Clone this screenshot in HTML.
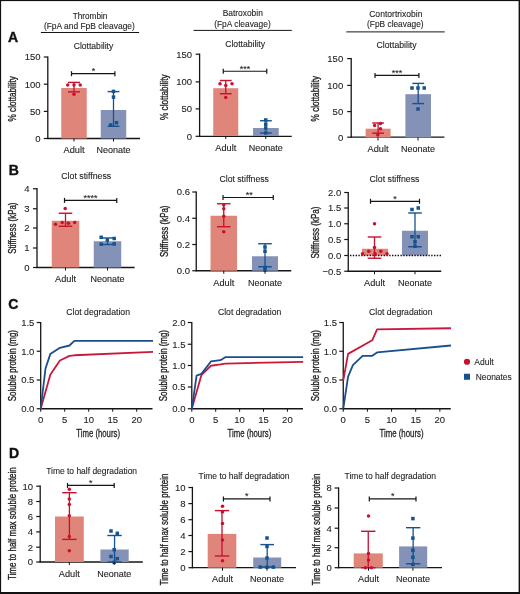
<!DOCTYPE html><html><head><meta charset="utf-8"><style>html,body{margin:0;padding:0;background:#fff;}svg{display:block;will-change:transform;font-family:"Liberation Sans",sans-serif;}</style></head><body>
<svg width="520" height="594" viewBox="0 0 520 594">
<rect x="0" y="0" width="520" height="594" fill="#fff"/>
<text x="8.10" y="41.80" font-size="14.00" text-anchor="start" fill="#111" font-weight="bold" stroke="#111" stroke-width="0.4">A</text>
<text x="8.70" y="175.00" font-size="14.00" text-anchor="start" fill="#111" font-weight="bold" stroke="#111" stroke-width="0.4">B</text>
<text x="8.30" y="308.50" font-size="14.00" text-anchor="start" fill="#111" font-weight="bold" stroke="#111" stroke-width="0.4">C</text>
<text x="8.90" y="457.60" font-size="14.00" text-anchor="start" fill="#111" font-weight="bold" stroke="#111" stroke-width="0.4">D</text>
<text x="90.00" y="18.50" font-size="8.40" text-anchor="middle" fill="#1e1e1e" font-weight="normal" textLength="34.70" lengthAdjust="spacingAndGlyphs" stroke="#1e1e1e" stroke-width="0.1">Thrombin</text>
<text x="89.38" y="29.00" font-size="8.40" text-anchor="middle" fill="#1e1e1e" font-weight="normal" textLength="90.95" lengthAdjust="spacingAndGlyphs" stroke="#1e1e1e" stroke-width="0.1">(FpA and FpB cleavage)</text>
<line x1="40.90" y1="32.50" x2="139.10" y2="32.50" stroke="#151515" stroke-width="1.00"/>
<text x="242.75" y="16.40" font-size="8.40" text-anchor="middle" fill="#1e1e1e" font-weight="normal" textLength="40.20" lengthAdjust="spacingAndGlyphs" stroke="#1e1e1e" stroke-width="0.1">Batroxobin</text>
<text x="242.45" y="26.60" font-size="8.40" text-anchor="middle" fill="#1e1e1e" font-weight="normal" textLength="56.50" lengthAdjust="spacingAndGlyphs" stroke="#1e1e1e" stroke-width="0.1">(FpA cleavage)</text>
<line x1="193.50" y1="30.40" x2="291.80" y2="30.40" stroke="#151515" stroke-width="1.00"/>
<text x="395.85" y="17.30" font-size="8.40" text-anchor="middle" fill="#1e1e1e" font-weight="normal" textLength="53.30" lengthAdjust="spacingAndGlyphs" stroke="#1e1e1e" stroke-width="0.1">Contortrixobin</text>
<text x="395.35" y="27.20" font-size="8.40" text-anchor="middle" fill="#1e1e1e" font-weight="normal" textLength="56.50" lengthAdjust="spacingAndGlyphs" stroke="#1e1e1e" stroke-width="0.1">(FpB cleavage)</text>
<line x1="346.30" y1="31.90" x2="444.70" y2="31.90" stroke="#151515" stroke-width="1.00"/>
<text x="93.50" y="49.40" font-size="8.40" text-anchor="middle" fill="#1e1e1e" font-weight="normal" textLength="39.60" lengthAdjust="spacingAndGlyphs" stroke="#1e1e1e" stroke-width="0.1">Clottability</text>
<line x1="47.80" y1="56.40" x2="47.80" y2="139.10" stroke="#151515" stroke-width="1.30"/>
<line x1="47.20" y1="138.50" x2="140.00" y2="138.50" stroke="#151515" stroke-width="1.30"/>
<line x1="43.80" y1="57.00" x2="47.80" y2="57.00" stroke="#151515" stroke-width="1.20"/>
<text x="40.60" y="60.42" font-size="9.50" text-anchor="end" fill="#1e1e1e" font-weight="normal" stroke="#1e1e1e" stroke-width="0.1">150</text>
<line x1="43.80" y1="84.20" x2="47.80" y2="84.20" stroke="#151515" stroke-width="1.20"/>
<text x="40.60" y="87.62" font-size="9.50" text-anchor="end" fill="#1e1e1e" font-weight="normal" stroke="#1e1e1e" stroke-width="0.1">100</text>
<line x1="43.80" y1="111.40" x2="47.80" y2="111.40" stroke="#151515" stroke-width="1.20"/>
<text x="40.60" y="114.82" font-size="9.50" text-anchor="end" fill="#1e1e1e" font-weight="normal" stroke="#1e1e1e" stroke-width="0.1">50</text>
<line x1="43.80" y1="138.50" x2="47.80" y2="138.50" stroke="#151515" stroke-width="1.20"/>
<text x="40.60" y="141.92" font-size="9.50" text-anchor="end" fill="#1e1e1e" font-weight="normal" stroke="#1e1e1e" stroke-width="0.1">0</text>
<text x="0" y="0" font-size="11.00" text-anchor="middle" fill="#1e1e1e" stroke="#1e1e1e" stroke-width="0.35" textLength="45.40" lengthAdjust="spacingAndGlyphs" transform="translate(16.46 98.80) rotate(-90)">% clottability</text>
<rect x="61.25" y="88.00" width="25.50" height="50.50" fill="#e0857a"/>
<line x1="74.00" y1="82.40" x2="74.00" y2="91.90" stroke="#c8102e" stroke-width="1.30"/>
<line x1="68.00" y1="82.40" x2="80.00" y2="82.40" stroke="#c8102e" stroke-width="1.40"/>
<line x1="68.00" y1="91.90" x2="80.00" y2="91.90" stroke="#c8102e" stroke-width="1.40"/>
<circle cx="67.70" cy="85.00" r="1.75" fill="#c8102e"/>
<circle cx="74.00" cy="85.00" r="1.75" fill="#c8102e"/>
<circle cx="80.20" cy="85.00" r="1.75" fill="#c8102e"/>
<circle cx="74.00" cy="94.30" r="1.75" fill="#c8102e"/>
<rect x="100.75" y="110.00" width="25.50" height="28.50" fill="#8592b7"/>
<line x1="113.50" y1="91.60" x2="113.50" y2="126.30" stroke="#15528e" stroke-width="1.30"/>
<line x1="107.60" y1="91.60" x2="119.40" y2="91.60" stroke="#15528e" stroke-width="1.40"/>
<line x1="107.60" y1="126.30" x2="119.40" y2="126.30" stroke="#15528e" stroke-width="1.40"/>
<rect x="111.75" y="89.65" width="3.50" height="3.50" fill="#15528e"/>
<rect x="111.75" y="95.35" width="3.50" height="3.50" fill="#15528e"/>
<rect x="108.85" y="123.25" width="3.50" height="3.50" fill="#15528e"/>
<rect x="114.75" y="120.95" width="3.50" height="3.50" fill="#15528e"/>
<line x1="74.00" y1="138.50" x2="74.00" y2="141.50" stroke="#151515" stroke-width="1.00"/>
<line x1="113.50" y1="138.50" x2="113.50" y2="141.50" stroke="#151515" stroke-width="1.00"/>
<line x1="71.50" y1="73.70" x2="114.90" y2="73.70" stroke="#151515" stroke-width="1.20"/>
<line x1="71.50" y1="71.20" x2="71.50" y2="76.20" stroke="#151515" stroke-width="1.20"/>
<line x1="114.90" y1="71.20" x2="114.90" y2="76.20" stroke="#151515" stroke-width="1.20"/>
<text x="93.40" y="74.13" font-size="9.00" text-anchor="middle" fill="#1e1e1e" font-weight="normal" stroke="#1e1e1e" stroke-width="0.1">*</text>
<text x="74.00" y="153.20" font-size="9.80" text-anchor="middle" fill="#1e1e1e" font-weight="normal" textLength="21.00" lengthAdjust="spacingAndGlyphs" stroke="#1e1e1e" stroke-width="0.12">Adult</text>
<text x="113.50" y="153.20" font-size="9.80" text-anchor="middle" fill="#1e1e1e" font-weight="normal" textLength="34.00" lengthAdjust="spacingAndGlyphs" stroke="#1e1e1e" stroke-width="0.12">Neonate</text>
<text x="245.10" y="47.30" font-size="8.40" text-anchor="middle" fill="#1e1e1e" font-weight="normal" textLength="39.80" lengthAdjust="spacingAndGlyphs" stroke="#1e1e1e" stroke-width="0.1">Clottability</text>
<line x1="199.60" y1="53.60" x2="199.60" y2="136.90" stroke="#151515" stroke-width="1.30"/>
<line x1="199.00" y1="136.30" x2="291.75" y2="136.30" stroke="#151515" stroke-width="1.30"/>
<line x1="195.60" y1="54.20" x2="199.60" y2="54.20" stroke="#151515" stroke-width="1.20"/>
<text x="192.00" y="57.62" font-size="9.50" text-anchor="end" fill="#1e1e1e" font-weight="normal" stroke="#1e1e1e" stroke-width="0.1">150</text>
<line x1="195.60" y1="81.90" x2="199.60" y2="81.90" stroke="#151515" stroke-width="1.20"/>
<text x="192.00" y="85.32" font-size="9.50" text-anchor="end" fill="#1e1e1e" font-weight="normal" stroke="#1e1e1e" stroke-width="0.1">100</text>
<line x1="195.60" y1="108.90" x2="199.60" y2="108.90" stroke="#151515" stroke-width="1.20"/>
<text x="192.00" y="112.32" font-size="9.50" text-anchor="end" fill="#1e1e1e" font-weight="normal" stroke="#1e1e1e" stroke-width="0.1">50</text>
<line x1="195.60" y1="136.30" x2="199.60" y2="136.30" stroke="#151515" stroke-width="1.20"/>
<text x="192.00" y="139.72" font-size="9.50" text-anchor="end" fill="#1e1e1e" font-weight="normal" stroke="#1e1e1e" stroke-width="0.1">0</text>
<text x="0" y="0" font-size="11.00" text-anchor="middle" fill="#1e1e1e" stroke="#1e1e1e" stroke-width="0.35" textLength="45.50" lengthAdjust="spacingAndGlyphs" transform="translate(168.46 97.25) rotate(-90)">% clottability</text>
<rect x="213.25" y="88.20" width="25.00" height="47.80" fill="#e0857a"/>
<line x1="225.75" y1="80.50" x2="225.75" y2="93.75" stroke="#c8102e" stroke-width="1.30"/>
<line x1="219.85" y1="80.50" x2="231.65" y2="80.50" stroke="#c8102e" stroke-width="1.40"/>
<line x1="219.85" y1="93.75" x2="231.65" y2="93.75" stroke="#c8102e" stroke-width="1.40"/>
<circle cx="220.00" cy="83.75" r="1.75" fill="#c8102e"/>
<circle cx="225.75" cy="85.50" r="1.75" fill="#c8102e"/>
<circle cx="232.00" cy="83.75" r="1.75" fill="#c8102e"/>
<circle cx="225.75" cy="97.50" r="1.75" fill="#c8102e"/>
<rect x="253.00" y="128.00" width="25.75" height="8.00" fill="#8592b7"/>
<line x1="265.88" y1="120.75" x2="265.88" y2="133.00" stroke="#15528e" stroke-width="1.30"/>
<line x1="259.98" y1="120.75" x2="271.77" y2="120.75" stroke="#15528e" stroke-width="1.40"/>
<line x1="259.98" y1="133.00" x2="271.77" y2="133.00" stroke="#15528e" stroke-width="1.40"/>
<rect x="264.00" y="118.25" width="3.50" height="3.50" fill="#15528e"/>
<rect x="264.00" y="122.50" width="3.50" height="3.50" fill="#15528e"/>
<rect x="264.00" y="126.25" width="3.50" height="3.50" fill="#15528e"/>
<rect x="264.00" y="131.25" width="3.50" height="3.50" fill="#15528e"/>
<line x1="225.75" y1="136.00" x2="225.75" y2="139.00" stroke="#151515" stroke-width="1.00"/>
<line x1="265.75" y1="136.00" x2="265.75" y2="139.00" stroke="#151515" stroke-width="1.00"/>
<line x1="223.25" y1="71.25" x2="266.75" y2="71.25" stroke="#151515" stroke-width="1.20"/>
<line x1="223.25" y1="68.75" x2="223.25" y2="73.75" stroke="#151515" stroke-width="1.20"/>
<line x1="266.75" y1="68.75" x2="266.75" y2="73.75" stroke="#151515" stroke-width="1.20"/>
<text x="245.00" y="71.68" font-size="9.00" text-anchor="middle" fill="#1e1e1e" font-weight="normal" stroke="#1e1e1e" stroke-width="0.1">***</text>
<text x="225.75" y="151.20" font-size="9.80" text-anchor="middle" fill="#1e1e1e" font-weight="normal" textLength="21.00" lengthAdjust="spacingAndGlyphs" stroke="#1e1e1e" stroke-width="0.12">Adult</text>
<text x="265.75" y="151.20" font-size="9.80" text-anchor="middle" fill="#1e1e1e" font-weight="normal" textLength="34.00" lengthAdjust="spacingAndGlyphs" stroke="#1e1e1e" stroke-width="0.12">Neonate</text>
<text x="396.60" y="48.40" font-size="8.40" text-anchor="middle" fill="#1e1e1e" font-weight="normal" textLength="40.00" lengthAdjust="spacingAndGlyphs" stroke="#1e1e1e" stroke-width="0.1">Clottability</text>
<line x1="351.20" y1="58.00" x2="351.20" y2="137.80" stroke="#151515" stroke-width="1.30"/>
<line x1="350.60" y1="137.20" x2="444.40" y2="137.20" stroke="#151515" stroke-width="1.30"/>
<line x1="347.20" y1="58.60" x2="351.20" y2="58.60" stroke="#151515" stroke-width="1.20"/>
<text x="343.20" y="62.02" font-size="9.50" text-anchor="end" fill="#1e1e1e" font-weight="normal" stroke="#1e1e1e" stroke-width="0.1">150</text>
<line x1="347.20" y1="85.40" x2="351.20" y2="85.40" stroke="#151515" stroke-width="1.20"/>
<text x="343.20" y="88.82" font-size="9.50" text-anchor="end" fill="#1e1e1e" font-weight="normal" stroke="#1e1e1e" stroke-width="0.1">100</text>
<line x1="347.20" y1="111.60" x2="351.20" y2="111.60" stroke="#151515" stroke-width="1.20"/>
<text x="343.20" y="115.02" font-size="9.50" text-anchor="end" fill="#1e1e1e" font-weight="normal" stroke="#1e1e1e" stroke-width="0.1">50</text>
<line x1="347.20" y1="137.20" x2="351.20" y2="137.20" stroke="#151515" stroke-width="1.20"/>
<text x="343.20" y="140.62" font-size="9.50" text-anchor="end" fill="#1e1e1e" font-weight="normal" stroke="#1e1e1e" stroke-width="0.1">0</text>
<text x="0" y="0" font-size="11.00" text-anchor="middle" fill="#1e1e1e" stroke="#1e1e1e" stroke-width="0.35" textLength="45.40" lengthAdjust="spacingAndGlyphs" transform="translate(318.96 98.70) rotate(-90)">% clottability</text>
<rect x="365.60" y="128.70" width="25.00" height="8.80" fill="#e0857a"/>
<line x1="378.10" y1="123.00" x2="378.10" y2="133.20" stroke="#c8102e" stroke-width="1.30"/>
<line x1="372.20" y1="123.00" x2="384.00" y2="123.00" stroke="#c8102e" stroke-width="1.40"/>
<line x1="372.20" y1="133.20" x2="384.00" y2="133.20" stroke="#c8102e" stroke-width="1.40"/>
<circle cx="374.60" cy="125.50" r="1.75" fill="#c8102e"/>
<circle cx="380.50" cy="123.40" r="1.75" fill="#c8102e"/>
<circle cx="380.50" cy="128.70" r="1.75" fill="#c8102e"/>
<circle cx="377.80" cy="135.00" r="1.75" fill="#c8102e"/>
<rect x="405.40" y="94.20" width="25.60" height="43.30" fill="#8592b7"/>
<line x1="418.20" y1="83.40" x2="418.20" y2="103.60" stroke="#15528e" stroke-width="1.30"/>
<line x1="412.30" y1="83.40" x2="424.10" y2="83.40" stroke="#15528e" stroke-width="1.40"/>
<line x1="412.30" y1="103.60" x2="424.10" y2="103.60" stroke="#15528e" stroke-width="1.40"/>
<rect x="410.25" y="86.25" width="3.50" height="3.50" fill="#15528e"/>
<rect x="416.25" y="86.25" width="3.50" height="3.50" fill="#15528e"/>
<rect x="422.50" y="86.25" width="3.50" height="3.50" fill="#15528e"/>
<rect x="416.25" y="107.25" width="3.50" height="3.50" fill="#15528e"/>
<line x1="378.00" y1="137.50" x2="378.00" y2="140.50" stroke="#151515" stroke-width="1.00"/>
<line x1="418.00" y1="137.50" x2="418.00" y2="140.50" stroke="#151515" stroke-width="1.00"/>
<line x1="375.00" y1="75.40" x2="418.90" y2="75.40" stroke="#151515" stroke-width="1.20"/>
<line x1="375.00" y1="72.90" x2="375.00" y2="77.90" stroke="#151515" stroke-width="1.20"/>
<line x1="418.90" y1="72.90" x2="418.90" y2="77.90" stroke="#151515" stroke-width="1.20"/>
<text x="397.00" y="75.83" font-size="9.00" text-anchor="middle" fill="#1e1e1e" font-weight="normal" stroke="#1e1e1e" stroke-width="0.1">***</text>
<text x="378.00" y="151.80" font-size="9.80" text-anchor="middle" fill="#1e1e1e" font-weight="normal" textLength="21.00" lengthAdjust="spacingAndGlyphs" stroke="#1e1e1e" stroke-width="0.12">Adult</text>
<text x="418.00" y="151.80" font-size="9.80" text-anchor="middle" fill="#1e1e1e" font-weight="normal" textLength="34.00" lengthAdjust="spacingAndGlyphs" stroke="#1e1e1e" stroke-width="0.12">Neonate</text>
<text x="86.25" y="178.50" font-size="8.40" text-anchor="middle" fill="#1e1e1e" font-weight="normal" textLength="50.00" lengthAdjust="spacingAndGlyphs" stroke="#1e1e1e" stroke-width="0.1">Clot stiffness</text>
<line x1="37.00" y1="187.90" x2="37.00" y2="268.10" stroke="#151515" stroke-width="1.30"/>
<line x1="36.40" y1="267.50" x2="134.60" y2="267.50" stroke="#151515" stroke-width="1.30"/>
<line x1="33.00" y1="188.75" x2="37.00" y2="188.75" stroke="#151515" stroke-width="1.20"/>
<text x="29.50" y="192.17" font-size="9.50" text-anchor="end" fill="#1e1e1e" font-weight="normal" stroke="#1e1e1e" stroke-width="0.1">4</text>
<line x1="33.00" y1="208.75" x2="37.00" y2="208.75" stroke="#151515" stroke-width="1.20"/>
<text x="29.50" y="212.17" font-size="9.50" text-anchor="end" fill="#1e1e1e" font-weight="normal" stroke="#1e1e1e" stroke-width="0.1">3</text>
<line x1="33.00" y1="228.00" x2="37.00" y2="228.00" stroke="#151515" stroke-width="1.20"/>
<text x="29.50" y="231.42" font-size="9.50" text-anchor="end" fill="#1e1e1e" font-weight="normal" stroke="#1e1e1e" stroke-width="0.1">2</text>
<line x1="33.00" y1="248.00" x2="37.00" y2="248.00" stroke="#151515" stroke-width="1.20"/>
<text x="29.50" y="251.42" font-size="9.50" text-anchor="end" fill="#1e1e1e" font-weight="normal" stroke="#1e1e1e" stroke-width="0.1">1</text>
<line x1="33.00" y1="267.50" x2="37.00" y2="267.50" stroke="#151515" stroke-width="1.20"/>
<text x="29.50" y="270.92" font-size="9.50" text-anchor="end" fill="#1e1e1e" font-weight="normal" stroke="#1e1e1e" stroke-width="0.1">0</text>
<text x="0" y="0" font-size="11.00" text-anchor="middle" fill="#1e1e1e" stroke="#1e1e1e" stroke-width="0.35" textLength="51.25" lengthAdjust="spacingAndGlyphs" transform="translate(16.46 228.12) rotate(-90)">Stiffness (kPa)</text>
<rect x="51.75" y="220.75" width="27.50" height="46.75" fill="#e0857a"/>
<line x1="65.50" y1="213.25" x2="65.50" y2="226.25" stroke="#c8102e" stroke-width="1.30"/>
<line x1="58.70" y1="213.25" x2="72.30" y2="213.25" stroke="#c8102e" stroke-width="1.40"/>
<line x1="58.70" y1="226.25" x2="72.30" y2="226.25" stroke="#c8102e" stroke-width="1.40"/>
<circle cx="65.20" cy="208.50" r="1.75" fill="#c8102e"/>
<circle cx="55.50" cy="224.20" r="1.75" fill="#c8102e"/>
<circle cx="62.20" cy="222.40" r="1.75" fill="#c8102e"/>
<circle cx="68.40" cy="223.20" r="1.75" fill="#c8102e"/>
<circle cx="74.70" cy="222.40" r="1.75" fill="#c8102e"/>
<rect x="93.75" y="241.25" width="27.50" height="26.25" fill="#8592b7"/>
<line x1="107.50" y1="238.00" x2="107.50" y2="244.50" stroke="#15528e" stroke-width="1.30"/>
<line x1="100.70" y1="238.00" x2="114.30" y2="238.00" stroke="#15528e" stroke-width="1.40"/>
<line x1="100.70" y1="244.50" x2="114.30" y2="244.50" stroke="#15528e" stroke-width="1.40"/>
<rect x="99.45" y="235.55" width="3.50" height="3.50" fill="#15528e"/>
<rect x="112.45" y="236.75" width="3.50" height="3.50" fill="#15528e"/>
<rect x="105.55" y="238.25" width="3.50" height="3.50" fill="#15528e"/>
<rect x="99.45" y="242.45" width="3.50" height="3.50" fill="#15528e"/>
<rect x="112.45" y="242.15" width="3.50" height="3.50" fill="#15528e"/>
<line x1="65.50" y1="267.50" x2="65.50" y2="270.50" stroke="#151515" stroke-width="1.00"/>
<line x1="107.50" y1="267.50" x2="107.50" y2="270.50" stroke="#151515" stroke-width="1.00"/>
<line x1="64.50" y1="200.40" x2="116.75" y2="200.40" stroke="#151515" stroke-width="1.20"/>
<line x1="64.50" y1="197.90" x2="64.50" y2="202.90" stroke="#151515" stroke-width="1.20"/>
<line x1="116.75" y1="197.90" x2="116.75" y2="202.90" stroke="#151515" stroke-width="1.20"/>
<text x="90.50" y="200.83" font-size="9.00" text-anchor="middle" fill="#1e1e1e" font-weight="normal" stroke="#1e1e1e" stroke-width="0.1">****</text>
<text x="65.50" y="282.00" font-size="9.80" text-anchor="middle" fill="#1e1e1e" font-weight="normal" textLength="21.00" lengthAdjust="spacingAndGlyphs" stroke="#1e1e1e" stroke-width="0.12">Adult</text>
<text x="107.50" y="282.00" font-size="9.80" text-anchor="middle" fill="#1e1e1e" font-weight="normal" textLength="34.00" lengthAdjust="spacingAndGlyphs" stroke="#1e1e1e" stroke-width="0.12">Neonate</text>
<text x="244.20" y="181.70" font-size="8.40" text-anchor="middle" fill="#1e1e1e" font-weight="normal" textLength="49.50" lengthAdjust="spacingAndGlyphs" stroke="#1e1e1e" stroke-width="0.1">Clot stiffness</text>
<line x1="196.25" y1="191.40" x2="196.25" y2="271.35" stroke="#151515" stroke-width="1.30"/>
<line x1="195.65" y1="270.75" x2="291.25" y2="270.75" stroke="#151515" stroke-width="1.30"/>
<line x1="192.25" y1="192.00" x2="196.25" y2="192.00" stroke="#151515" stroke-width="1.20"/>
<text x="190.00" y="195.42" font-size="9.50" text-anchor="end" fill="#1e1e1e" font-weight="normal" stroke="#1e1e1e" stroke-width="0.1">0.6</text>
<line x1="192.25" y1="218.25" x2="196.25" y2="218.25" stroke="#151515" stroke-width="1.20"/>
<text x="190.00" y="221.67" font-size="9.50" text-anchor="end" fill="#1e1e1e" font-weight="normal" stroke="#1e1e1e" stroke-width="0.1">0.4</text>
<line x1="192.25" y1="244.50" x2="196.25" y2="244.50" stroke="#151515" stroke-width="1.20"/>
<text x="190.00" y="247.92" font-size="9.50" text-anchor="end" fill="#1e1e1e" font-weight="normal" stroke="#1e1e1e" stroke-width="0.1">0.2</text>
<line x1="192.25" y1="270.75" x2="196.25" y2="270.75" stroke="#151515" stroke-width="1.20"/>
<text x="190.00" y="274.17" font-size="9.50" text-anchor="end" fill="#1e1e1e" font-weight="normal" stroke="#1e1e1e" stroke-width="0.1">0.0</text>
<text x="0" y="0" font-size="11.00" text-anchor="middle" fill="#1e1e1e" stroke="#1e1e1e" stroke-width="0.35" textLength="51.50" lengthAdjust="spacingAndGlyphs" transform="translate(167.96 231.25) rotate(-90)">Stiffness (kPa)</text>
<rect x="210.50" y="215.75" width="26.50" height="55.00" fill="#e0857a"/>
<line x1="223.75" y1="203.75" x2="223.75" y2="226.75" stroke="#c8102e" stroke-width="1.30"/>
<line x1="216.95" y1="203.75" x2="230.55" y2="203.75" stroke="#c8102e" stroke-width="1.40"/>
<line x1="216.95" y1="226.75" x2="230.55" y2="226.75" stroke="#c8102e" stroke-width="1.40"/>
<circle cx="223.75" cy="205.00" r="1.75" fill="#c8102e"/>
<circle cx="223.75" cy="208.75" r="1.75" fill="#c8102e"/>
<circle cx="223.75" cy="216.25" r="1.75" fill="#c8102e"/>
<circle cx="223.75" cy="231.75" r="1.75" fill="#c8102e"/>
<rect x="252.00" y="256.25" width="26.00" height="14.50" fill="#8592b7"/>
<line x1="265.00" y1="243.75" x2="265.00" y2="266.75" stroke="#15528e" stroke-width="1.30"/>
<line x1="258.20" y1="243.75" x2="271.80" y2="243.75" stroke="#15528e" stroke-width="1.40"/>
<line x1="258.20" y1="266.75" x2="271.80" y2="266.75" stroke="#15528e" stroke-width="1.40"/>
<rect x="263.25" y="245.25" width="3.50" height="3.50" fill="#15528e"/>
<rect x="263.25" y="249.50" width="3.50" height="3.50" fill="#15528e"/>
<rect x="263.25" y="265.75" width="3.50" height="3.50" fill="#15528e"/>
<rect x="263.25" y="268.25" width="3.50" height="3.50" fill="#15528e"/>
<line x1="223.75" y1="270.75" x2="223.75" y2="273.75" stroke="#151515" stroke-width="1.00"/>
<line x1="265.00" y1="270.75" x2="265.00" y2="273.75" stroke="#151515" stroke-width="1.00"/>
<line x1="223.00" y1="197.50" x2="273.25" y2="197.50" stroke="#151515" stroke-width="1.20"/>
<line x1="223.00" y1="195.00" x2="223.00" y2="200.00" stroke="#151515" stroke-width="1.20"/>
<line x1="273.25" y1="195.00" x2="273.25" y2="200.00" stroke="#151515" stroke-width="1.20"/>
<text x="249.25" y="197.93" font-size="9.00" text-anchor="middle" fill="#1e1e1e" font-weight="normal" stroke="#1e1e1e" stroke-width="0.1">**</text>
<text x="223.75" y="286.00" font-size="9.80" text-anchor="middle" fill="#1e1e1e" font-weight="normal" textLength="21.00" lengthAdjust="spacingAndGlyphs" stroke="#1e1e1e" stroke-width="0.12">Adult</text>
<text x="265.00" y="286.00" font-size="9.80" text-anchor="middle" fill="#1e1e1e" font-weight="normal" textLength="34.00" lengthAdjust="spacingAndGlyphs" stroke="#1e1e1e" stroke-width="0.12">Neonate</text>
<text x="394.50" y="182.20" font-size="8.40" text-anchor="middle" fill="#1e1e1e" font-weight="normal" textLength="50.00" lengthAdjust="spacingAndGlyphs" stroke="#1e1e1e" stroke-width="0.1">Clot stiffness</text>
<line x1="348.25" y1="191.90" x2="348.25" y2="271.85" stroke="#151515" stroke-width="1.30"/>
<line x1="347.65" y1="271.25" x2="441.25" y2="271.25" stroke="#151515" stroke-width="1.30"/>
<line x1="344.25" y1="192.50" x2="348.25" y2="192.50" stroke="#151515" stroke-width="1.20"/>
<text x="341.25" y="195.92" font-size="9.50" text-anchor="end" fill="#1e1e1e" font-weight="normal" stroke="#1e1e1e" stroke-width="0.1">2.0</text>
<line x1="344.25" y1="208.00" x2="348.25" y2="208.00" stroke="#151515" stroke-width="1.20"/>
<text x="341.25" y="211.42" font-size="9.50" text-anchor="end" fill="#1e1e1e" font-weight="normal" stroke="#1e1e1e" stroke-width="0.1">1.5</text>
<line x1="344.25" y1="223.75" x2="348.25" y2="223.75" stroke="#151515" stroke-width="1.20"/>
<text x="341.25" y="227.17" font-size="9.50" text-anchor="end" fill="#1e1e1e" font-weight="normal" stroke="#1e1e1e" stroke-width="0.1">1.0</text>
<line x1="344.25" y1="239.50" x2="348.25" y2="239.50" stroke="#151515" stroke-width="1.20"/>
<text x="341.25" y="242.92" font-size="9.50" text-anchor="end" fill="#1e1e1e" font-weight="normal" stroke="#1e1e1e" stroke-width="0.1">0.5</text>
<line x1="344.25" y1="255.50" x2="348.25" y2="255.50" stroke="#151515" stroke-width="1.20"/>
<text x="341.25" y="258.92" font-size="9.50" text-anchor="end" fill="#1e1e1e" font-weight="normal" stroke="#1e1e1e" stroke-width="0.1">0.0</text>
<line x1="344.25" y1="271.25" x2="348.25" y2="271.25" stroke="#151515" stroke-width="1.20"/>
<text x="341.25" y="274.67" font-size="9.50" text-anchor="end" fill="#1e1e1e" font-weight="normal" stroke="#1e1e1e" stroke-width="0.1">−0.5</text>
<text x="0" y="0" font-size="11.00" text-anchor="middle" fill="#1e1e1e" stroke="#1e1e1e" stroke-width="0.35" textLength="52.00" lengthAdjust="spacingAndGlyphs" transform="translate(319.46 232.50) rotate(-90)">Stiffness (kPa)</text>
<rect x="362.00" y="248.75" width="26.00" height="6.75" fill="#e0857a"/>
<rect x="402.00" y="230.75" width="26.00" height="24.75" fill="#8592b7"/>
<line x1="350.00" y1="255.50" x2="441.25" y2="255.50" stroke="#111" stroke-width="1.40" stroke-dasharray="1.4 1.4"/>
<line x1="374.50" y1="237.00" x2="374.50" y2="258.25" stroke="#c8102e" stroke-width="1.30"/>
<line x1="367.70" y1="237.00" x2="381.30" y2="237.00" stroke="#c8102e" stroke-width="1.40"/>
<line x1="367.70" y1="258.25" x2="381.30" y2="258.25" stroke="#c8102e" stroke-width="1.40"/>
<line x1="415.00" y1="213.00" x2="415.00" y2="246.75" stroke="#15528e" stroke-width="1.30"/>
<line x1="408.20" y1="213.00" x2="421.80" y2="213.00" stroke="#15528e" stroke-width="1.40"/>
<line x1="408.20" y1="246.75" x2="421.80" y2="246.75" stroke="#15528e" stroke-width="1.40"/>
<circle cx="374.50" cy="223.75" r="1.75" fill="#c8102e"/>
<circle cx="374.50" cy="247.50" r="1.75" fill="#c8102e"/>
<circle cx="362.50" cy="253.75" r="1.75" fill="#c8102e"/>
<circle cx="368.75" cy="251.25" r="1.75" fill="#c8102e"/>
<circle cx="375.00" cy="253.75" r="1.75" fill="#c8102e"/>
<circle cx="380.75" cy="251.25" r="1.75" fill="#c8102e"/>
<circle cx="387.00" cy="253.75" r="1.75" fill="#c8102e"/>
<rect x="410.25" y="207.75" width="3.50" height="3.50" fill="#15528e"/>
<rect x="416.50" y="206.25" width="3.50" height="3.50" fill="#15528e"/>
<rect x="410.25" y="235.00" width="3.50" height="3.50" fill="#15528e"/>
<rect x="416.50" y="235.00" width="3.50" height="3.50" fill="#15528e"/>
<rect x="413.25" y="240.00" width="3.50" height="3.50" fill="#15528e"/>
<rect x="413.25" y="244.50" width="3.50" height="3.50" fill="#15528e"/>
<line x1="374.50" y1="271.25" x2="374.50" y2="274.25" stroke="#151515" stroke-width="1.00"/>
<line x1="415.00" y1="271.25" x2="415.00" y2="274.25" stroke="#151515" stroke-width="1.00"/>
<line x1="370.50" y1="201.30" x2="419.50" y2="201.30" stroke="#151515" stroke-width="1.20"/>
<line x1="370.50" y1="198.80" x2="370.50" y2="203.80" stroke="#151515" stroke-width="1.20"/>
<line x1="419.50" y1="198.80" x2="419.50" y2="203.80" stroke="#151515" stroke-width="1.20"/>
<text x="395.00" y="201.73" font-size="9.00" text-anchor="middle" fill="#1e1e1e" font-weight="normal" stroke="#1e1e1e" stroke-width="0.1">*</text>
<text x="374.50" y="286.20" font-size="9.80" text-anchor="middle" fill="#1e1e1e" font-weight="normal" textLength="21.00" lengthAdjust="spacingAndGlyphs" stroke="#1e1e1e" stroke-width="0.12">Adult</text>
<text x="415.00" y="286.20" font-size="9.80" text-anchor="middle" fill="#1e1e1e" font-weight="normal" textLength="34.00" lengthAdjust="spacingAndGlyphs" stroke="#1e1e1e" stroke-width="0.12">Neonate</text>
<text x="98.12" y="314.90" font-size="8.40" text-anchor="middle" fill="#1e1e1e" font-weight="normal" textLength="63.75" lengthAdjust="spacingAndGlyphs" stroke="#1e1e1e" stroke-width="0.1">Clot degradation</text>
<line x1="40.70" y1="321.90" x2="40.70" y2="409.35" stroke="#151515" stroke-width="1.30"/>
<line x1="40.10" y1="408.75" x2="152.50" y2="408.75" stroke="#151515" stroke-width="1.30"/>
<line x1="36.70" y1="322.50" x2="40.70" y2="322.50" stroke="#151515" stroke-width="1.20"/>
<text x="34.40" y="325.92" font-size="9.50" text-anchor="end" fill="#1e1e1e" font-weight="normal" stroke="#1e1e1e" stroke-width="0.1">1.5</text>
<line x1="36.70" y1="351.25" x2="40.70" y2="351.25" stroke="#151515" stroke-width="1.20"/>
<text x="34.40" y="354.67" font-size="9.50" text-anchor="end" fill="#1e1e1e" font-weight="normal" stroke="#1e1e1e" stroke-width="0.1">1.0</text>
<line x1="36.70" y1="380.00" x2="40.70" y2="380.00" stroke="#151515" stroke-width="1.20"/>
<text x="34.40" y="383.42" font-size="9.50" text-anchor="end" fill="#1e1e1e" font-weight="normal" stroke="#1e1e1e" stroke-width="0.1">0.5</text>
<line x1="36.70" y1="408.75" x2="40.70" y2="408.75" stroke="#151515" stroke-width="1.20"/>
<text x="34.40" y="412.17" font-size="9.50" text-anchor="end" fill="#1e1e1e" font-weight="normal" stroke="#1e1e1e" stroke-width="0.1">0.0</text>
<line x1="40.70" y1="408.75" x2="40.70" y2="411.75" stroke="#151515" stroke-width="1.00"/>
<text x="40.70" y="422.50" font-size="9.50" text-anchor="middle" fill="#1e1e1e" font-weight="normal" stroke="#1e1e1e" stroke-width="0.1">0</text>
<line x1="64.70" y1="408.75" x2="64.70" y2="411.75" stroke="#151515" stroke-width="1.00"/>
<text x="64.70" y="422.50" font-size="9.50" text-anchor="middle" fill="#1e1e1e" font-weight="normal" stroke="#1e1e1e" stroke-width="0.1">5</text>
<line x1="88.70" y1="408.75" x2="88.70" y2="411.75" stroke="#151515" stroke-width="1.00"/>
<text x="88.70" y="422.50" font-size="9.50" text-anchor="middle" fill="#1e1e1e" font-weight="normal" stroke="#1e1e1e" stroke-width="0.1">10</text>
<line x1="112.70" y1="408.75" x2="112.70" y2="411.75" stroke="#151515" stroke-width="1.00"/>
<text x="112.70" y="422.50" font-size="9.50" text-anchor="middle" fill="#1e1e1e" font-weight="normal" stroke="#1e1e1e" stroke-width="0.1">15</text>
<line x1="136.70" y1="408.75" x2="136.70" y2="411.75" stroke="#151515" stroke-width="1.00"/>
<text x="136.70" y="422.50" font-size="9.50" text-anchor="middle" fill="#1e1e1e" font-weight="normal" stroke="#1e1e1e" stroke-width="0.1">20</text>
<polyline points="40.70,408.75 50.30,374.82 59.90,360.45 69.50,355.85 74.30,355.27 153.02,351.82" fill="none" stroke="#c8193c" stroke-width="1.8" stroke-linejoin="round"/>
<polyline points="40.70,408.75 45.50,368.50 50.30,354.12 59.90,347.80 69.50,345.50 74.30,340.90 153.02,340.90" fill="none" stroke="#1a4f8c" stroke-width="1.8" stroke-linejoin="round"/>
<text x="0" y="0" font-size="11.00" text-anchor="middle" fill="#1e1e1e" stroke="#1e1e1e" stroke-width="0.35" textLength="71.25" lengthAdjust="spacingAndGlyphs" transform="translate(16.46 365.62) rotate(-90)">Soluble protein (mg)</text>
<text x="98.12" y="436.90" font-size="11.50" text-anchor="middle" fill="#1e1e1e" font-weight="normal" textLength="43.75" lengthAdjust="spacingAndGlyphs" stroke="#1e1e1e" stroke-width="0.3">Time (hours)</text>
<text x="249.62" y="314.90" font-size="8.40" text-anchor="middle" fill="#1e1e1e" font-weight="normal" textLength="63.25" lengthAdjust="spacingAndGlyphs" stroke="#1e1e1e" stroke-width="0.1">Clot degradation</text>
<line x1="191.80" y1="321.90" x2="191.80" y2="409.35" stroke="#151515" stroke-width="1.30"/>
<line x1="191.20" y1="408.75" x2="303.00" y2="408.75" stroke="#151515" stroke-width="1.30"/>
<line x1="187.80" y1="322.50" x2="191.80" y2="322.50" stroke="#151515" stroke-width="1.20"/>
<text x="185.50" y="325.92" font-size="9.50" text-anchor="end" fill="#1e1e1e" font-weight="normal" stroke="#1e1e1e" stroke-width="0.1">2.0</text>
<line x1="187.80" y1="344.25" x2="191.80" y2="344.25" stroke="#151515" stroke-width="1.20"/>
<text x="185.50" y="347.67" font-size="9.50" text-anchor="end" fill="#1e1e1e" font-weight="normal" stroke="#1e1e1e" stroke-width="0.1">1.5</text>
<line x1="187.80" y1="365.50" x2="191.80" y2="365.50" stroke="#151515" stroke-width="1.20"/>
<text x="185.50" y="368.92" font-size="9.50" text-anchor="end" fill="#1e1e1e" font-weight="normal" stroke="#1e1e1e" stroke-width="0.1">1.0</text>
<line x1="187.80" y1="387.00" x2="191.80" y2="387.00" stroke="#151515" stroke-width="1.20"/>
<text x="185.50" y="390.42" font-size="9.50" text-anchor="end" fill="#1e1e1e" font-weight="normal" stroke="#1e1e1e" stroke-width="0.1">0.5</text>
<line x1="187.80" y1="408.75" x2="191.80" y2="408.75" stroke="#151515" stroke-width="1.20"/>
<text x="185.50" y="412.17" font-size="9.50" text-anchor="end" fill="#1e1e1e" font-weight="normal" stroke="#1e1e1e" stroke-width="0.1">0.0</text>
<line x1="191.80" y1="408.75" x2="191.80" y2="411.75" stroke="#151515" stroke-width="1.00"/>
<text x="191.80" y="422.50" font-size="9.50" text-anchor="middle" fill="#1e1e1e" font-weight="normal" stroke="#1e1e1e" stroke-width="0.1">0</text>
<line x1="215.70" y1="408.75" x2="215.70" y2="411.75" stroke="#151515" stroke-width="1.00"/>
<text x="215.70" y="422.50" font-size="9.50" text-anchor="middle" fill="#1e1e1e" font-weight="normal" stroke="#1e1e1e" stroke-width="0.1">5</text>
<line x1="239.60" y1="408.75" x2="239.60" y2="411.75" stroke="#151515" stroke-width="1.00"/>
<text x="239.60" y="422.50" font-size="9.50" text-anchor="middle" fill="#1e1e1e" font-weight="normal" stroke="#1e1e1e" stroke-width="0.1">10</text>
<line x1="263.50" y1="408.75" x2="263.50" y2="411.75" stroke="#151515" stroke-width="1.00"/>
<text x="263.50" y="422.50" font-size="9.50" text-anchor="middle" fill="#1e1e1e" font-weight="normal" stroke="#1e1e1e" stroke-width="0.1">15</text>
<line x1="287.40" y1="408.75" x2="287.40" y2="411.75" stroke="#151515" stroke-width="1.00"/>
<text x="287.40" y="422.50" font-size="9.50" text-anchor="middle" fill="#1e1e1e" font-weight="normal" stroke="#1e1e1e" stroke-width="0.1">20</text>
<polyline points="191.80,408.75 201.36,375.21 210.92,365.75 220.48,364.46 225.26,363.60 303.17,361.88" fill="none" stroke="#c8193c" stroke-width="1.8" stroke-linejoin="round"/>
<polyline points="191.80,408.75 196.58,375.64 201.36,373.92 210.92,361.45 220.48,360.16 225.26,357.15 303.17,357.15" fill="none" stroke="#1a4f8c" stroke-width="1.8" stroke-linejoin="round"/>
<text x="0" y="0" font-size="11.00" text-anchor="middle" fill="#1e1e1e" stroke="#1e1e1e" stroke-width="0.35" textLength="71.25" lengthAdjust="spacingAndGlyphs" transform="translate(167.46 365.62) rotate(-90)">Soluble protein (mg)</text>
<text x="249.38" y="436.90" font-size="11.50" text-anchor="middle" fill="#1e1e1e" font-weight="normal" textLength="43.75" lengthAdjust="spacingAndGlyphs" stroke="#1e1e1e" stroke-width="0.3">Time (hours)</text>
<text x="400.75" y="314.90" font-size="8.40" text-anchor="middle" fill="#1e1e1e" font-weight="normal" textLength="63.50" lengthAdjust="spacingAndGlyphs" stroke="#1e1e1e" stroke-width="0.1">Clot degradation</text>
<line x1="343.25" y1="321.90" x2="343.25" y2="409.35" stroke="#151515" stroke-width="1.30"/>
<line x1="342.65" y1="408.75" x2="450.75" y2="408.75" stroke="#151515" stroke-width="1.30"/>
<line x1="339.25" y1="322.50" x2="343.25" y2="322.50" stroke="#151515" stroke-width="1.20"/>
<text x="336.95" y="325.92" font-size="9.50" text-anchor="end" fill="#1e1e1e" font-weight="normal" stroke="#1e1e1e" stroke-width="0.1">1.5</text>
<line x1="339.25" y1="351.25" x2="343.25" y2="351.25" stroke="#151515" stroke-width="1.20"/>
<text x="336.95" y="354.67" font-size="9.50" text-anchor="end" fill="#1e1e1e" font-weight="normal" stroke="#1e1e1e" stroke-width="0.1">1.0</text>
<line x1="339.25" y1="380.00" x2="343.25" y2="380.00" stroke="#151515" stroke-width="1.20"/>
<text x="336.95" y="383.42" font-size="9.50" text-anchor="end" fill="#1e1e1e" font-weight="normal" stroke="#1e1e1e" stroke-width="0.1">0.5</text>
<line x1="339.25" y1="408.75" x2="343.25" y2="408.75" stroke="#151515" stroke-width="1.20"/>
<text x="336.95" y="412.17" font-size="9.50" text-anchor="end" fill="#1e1e1e" font-weight="normal" stroke="#1e1e1e" stroke-width="0.1">0.0</text>
<line x1="343.25" y1="408.75" x2="343.25" y2="411.75" stroke="#151515" stroke-width="1.00"/>
<text x="343.25" y="422.50" font-size="9.50" text-anchor="middle" fill="#1e1e1e" font-weight="normal" stroke="#1e1e1e" stroke-width="0.1">0</text>
<line x1="367.40" y1="408.75" x2="367.40" y2="411.75" stroke="#151515" stroke-width="1.00"/>
<text x="367.40" y="422.50" font-size="9.50" text-anchor="middle" fill="#1e1e1e" font-weight="normal" stroke="#1e1e1e" stroke-width="0.1">5</text>
<line x1="391.55" y1="408.75" x2="391.55" y2="411.75" stroke="#151515" stroke-width="1.00"/>
<text x="391.55" y="422.50" font-size="9.50" text-anchor="middle" fill="#1e1e1e" font-weight="normal" stroke="#1e1e1e" stroke-width="0.1">10</text>
<line x1="415.70" y1="408.75" x2="415.70" y2="411.75" stroke="#151515" stroke-width="1.00"/>
<text x="415.70" y="422.50" font-size="9.50" text-anchor="middle" fill="#1e1e1e" font-weight="normal" stroke="#1e1e1e" stroke-width="0.1">15</text>
<line x1="439.85" y1="408.75" x2="439.85" y2="411.75" stroke="#151515" stroke-width="1.00"/>
<text x="439.85" y="422.50" font-size="9.50" text-anchor="middle" fill="#1e1e1e" font-weight="normal" stroke="#1e1e1e" stroke-width="0.1">20</text>
<polyline points="343.25,380.57 348.08,353.84 372.23,340.32 377.06,329.40 450.96,328.25" fill="none" stroke="#c8193c" stroke-width="1.8" stroke-linejoin="round"/>
<polyline points="343.25,408.75 348.08,376.55 352.91,365.05 362.57,355.85 372.23,355.85 377.06,352.40 450.96,345.50" fill="none" stroke="#1a4f8c" stroke-width="1.8" stroke-linejoin="round"/>
<text x="0" y="0" font-size="11.00" text-anchor="middle" fill="#1e1e1e" stroke="#1e1e1e" stroke-width="0.35" textLength="71.25" lengthAdjust="spacingAndGlyphs" transform="translate(319.46 365.62) rotate(-90)">Soluble protein (mg)</text>
<text x="401.50" y="436.90" font-size="11.50" text-anchor="middle" fill="#1e1e1e" font-weight="normal" textLength="44.00" lengthAdjust="spacingAndGlyphs" stroke="#1e1e1e" stroke-width="0.3">Time (hours)</text>
<circle cx="467" cy="361.75" r="3.1" fill="#c8102e"/>
<rect x="464.00" y="373.75" width="6.00" height="6.00" fill="#15528e"/>
<text x="484.00" y="365.00" font-size="9.80" text-anchor="middle" fill="#1e1e1e" font-weight="normal" textLength="19.50" lengthAdjust="spacingAndGlyphs" stroke="#1e1e1e" stroke-width="0.1">Adult</text>
<text x="493.75" y="380.00" font-size="9.80" text-anchor="middle" fill="#1e1e1e" font-weight="normal" textLength="36.00" lengthAdjust="spacingAndGlyphs" stroke="#1e1e1e" stroke-width="0.1">Neonates</text>
<text x="91.65" y="473.60" font-size="8.40" text-anchor="middle" fill="#1e1e1e" font-weight="normal" textLength="90.90" lengthAdjust="spacingAndGlyphs" stroke="#1e1e1e" stroke-width="0.1">Time to half degradation</text>
<line x1="40.20" y1="485.60" x2="40.20" y2="562.60" stroke="#151515" stroke-width="1.30"/>
<line x1="39.60" y1="562.00" x2="142.80" y2="562.00" stroke="#151515" stroke-width="1.30"/>
<line x1="36.20" y1="486.20" x2="40.20" y2="486.20" stroke="#151515" stroke-width="1.20"/>
<text x="33.00" y="489.62" font-size="9.50" text-anchor="end" fill="#1e1e1e" font-weight="normal" stroke="#1e1e1e" stroke-width="0.1">10</text>
<line x1="36.20" y1="501.50" x2="40.20" y2="501.50" stroke="#151515" stroke-width="1.20"/>
<text x="33.00" y="504.92" font-size="9.50" text-anchor="end" fill="#1e1e1e" font-weight="normal" stroke="#1e1e1e" stroke-width="0.1">8</text>
<line x1="36.20" y1="516.50" x2="40.20" y2="516.50" stroke="#151515" stroke-width="1.20"/>
<text x="33.00" y="519.92" font-size="9.50" text-anchor="end" fill="#1e1e1e" font-weight="normal" stroke="#1e1e1e" stroke-width="0.1">6</text>
<line x1="36.20" y1="531.90" x2="40.20" y2="531.90" stroke="#151515" stroke-width="1.20"/>
<text x="33.00" y="535.32" font-size="9.50" text-anchor="end" fill="#1e1e1e" font-weight="normal" stroke="#1e1e1e" stroke-width="0.1">4</text>
<line x1="36.20" y1="547.20" x2="40.20" y2="547.20" stroke="#151515" stroke-width="1.20"/>
<text x="33.00" y="550.62" font-size="9.50" text-anchor="end" fill="#1e1e1e" font-weight="normal" stroke="#1e1e1e" stroke-width="0.1">2</text>
<line x1="36.20" y1="562.00" x2="40.20" y2="562.00" stroke="#151515" stroke-width="1.20"/>
<text x="33.00" y="565.42" font-size="9.50" text-anchor="end" fill="#1e1e1e" font-weight="normal" stroke="#1e1e1e" stroke-width="0.1">0</text>
<text x="0" y="0" font-size="11.00" text-anchor="middle" fill="#1e1e1e" stroke="#1e1e1e" stroke-width="0.35" textLength="112.85" lengthAdjust="spacingAndGlyphs" transform="translate(16.46 523.67) rotate(-90)">Time to half max soluble protein</text>
<rect x="55.00" y="516.50" width="28.80" height="45.50" fill="#e0857a"/>
<line x1="69.40" y1="492.70" x2="69.40" y2="539.40" stroke="#c8102e" stroke-width="1.30"/>
<line x1="62.20" y1="492.70" x2="76.60" y2="492.70" stroke="#c8102e" stroke-width="1.40"/>
<line x1="62.20" y1="539.40" x2="76.60" y2="539.40" stroke="#c8102e" stroke-width="1.40"/>
<circle cx="69.30" cy="489.30" r="1.75" fill="#c8102e"/>
<circle cx="69.30" cy="499.00" r="1.75" fill="#c8102e"/>
<circle cx="69.30" cy="504.40" r="1.75" fill="#c8102e"/>
<circle cx="69.30" cy="515.70" r="1.75" fill="#c8102e"/>
<circle cx="69.30" cy="536.60" r="1.75" fill="#c8102e"/>
<circle cx="69.30" cy="550.80" r="1.75" fill="#c8102e"/>
<rect x="100.40" y="549.50" width="28.30" height="12.50" fill="#8592b7"/>
<line x1="114.55" y1="535.50" x2="114.55" y2="562.00" stroke="#15528e" stroke-width="1.30"/>
<line x1="107.35" y1="535.50" x2="121.75" y2="535.50" stroke="#15528e" stroke-width="1.40"/>
<line x1="107.35" y1="562.00" x2="121.75" y2="562.00" stroke="#15528e" stroke-width="1.40"/>
<rect x="109.25" y="529.25" width="3.50" height="3.50" fill="#15528e"/>
<rect x="115.55" y="531.55" width="3.50" height="3.50" fill="#15528e"/>
<rect x="112.45" y="547.95" width="3.50" height="3.50" fill="#15528e"/>
<rect x="109.25" y="554.75" width="3.50" height="3.50" fill="#15528e"/>
<rect x="115.55" y="556.95" width="3.50" height="3.50" fill="#15528e"/>
<rect x="112.45" y="560.55" width="3.50" height="3.50" fill="#15528e"/>
<line x1="69.30" y1="562.00" x2="69.30" y2="565.00" stroke="#151515" stroke-width="1.00"/>
<line x1="114.20" y1="562.00" x2="114.20" y2="565.00" stroke="#151515" stroke-width="1.00"/>
<line x1="67.50" y1="485.40" x2="114.20" y2="485.40" stroke="#151515" stroke-width="1.20"/>
<line x1="67.50" y1="482.90" x2="67.50" y2="487.90" stroke="#151515" stroke-width="1.20"/>
<line x1="114.20" y1="482.90" x2="114.20" y2="487.90" stroke="#151515" stroke-width="1.20"/>
<text x="90.80" y="485.83" font-size="9.00" text-anchor="middle" fill="#1e1e1e" font-weight="normal" stroke="#1e1e1e" stroke-width="0.1">*</text>
<text x="69.30" y="576.60" font-size="9.80" text-anchor="middle" fill="#1e1e1e" font-weight="normal" textLength="21.00" lengthAdjust="spacingAndGlyphs" stroke="#1e1e1e" stroke-width="0.12">Adult</text>
<text x="114.20" y="576.60" font-size="9.80" text-anchor="middle" fill="#1e1e1e" font-weight="normal" textLength="34.00" lengthAdjust="spacingAndGlyphs" stroke="#1e1e1e" stroke-width="0.12">Neonate</text>
<text x="244.05" y="479.00" font-size="8.40" text-anchor="middle" fill="#1e1e1e" font-weight="normal" textLength="90.90" lengthAdjust="spacingAndGlyphs" stroke="#1e1e1e" stroke-width="0.1">Time to half degradation</text>
<line x1="192.40" y1="486.90" x2="192.40" y2="568.30" stroke="#151515" stroke-width="1.30"/>
<line x1="191.80" y1="567.70" x2="296.00" y2="567.70" stroke="#151515" stroke-width="1.30"/>
<line x1="188.40" y1="487.50" x2="192.40" y2="487.50" stroke="#151515" stroke-width="1.20"/>
<text x="185.60" y="490.92" font-size="9.50" text-anchor="end" fill="#1e1e1e" font-weight="normal" stroke="#1e1e1e" stroke-width="0.1">10</text>
<line x1="188.40" y1="503.60" x2="192.40" y2="503.60" stroke="#151515" stroke-width="1.20"/>
<text x="185.60" y="507.02" font-size="9.50" text-anchor="end" fill="#1e1e1e" font-weight="normal" stroke="#1e1e1e" stroke-width="0.1">8</text>
<line x1="188.40" y1="519.70" x2="192.40" y2="519.70" stroke="#151515" stroke-width="1.20"/>
<text x="185.60" y="523.12" font-size="9.50" text-anchor="end" fill="#1e1e1e" font-weight="normal" stroke="#1e1e1e" stroke-width="0.1">6</text>
<line x1="188.40" y1="535.50" x2="192.40" y2="535.50" stroke="#151515" stroke-width="1.20"/>
<text x="185.60" y="538.92" font-size="9.50" text-anchor="end" fill="#1e1e1e" font-weight="normal" stroke="#1e1e1e" stroke-width="0.1">4</text>
<line x1="188.40" y1="551.60" x2="192.40" y2="551.60" stroke="#151515" stroke-width="1.20"/>
<text x="185.60" y="555.02" font-size="9.50" text-anchor="end" fill="#1e1e1e" font-weight="normal" stroke="#1e1e1e" stroke-width="0.1">2</text>
<line x1="188.40" y1="567.70" x2="192.40" y2="567.70" stroke="#151515" stroke-width="1.20"/>
<text x="185.60" y="571.12" font-size="9.50" text-anchor="end" fill="#1e1e1e" font-weight="normal" stroke="#1e1e1e" stroke-width="0.1">0</text>
<text x="0" y="0" font-size="11.00" text-anchor="middle" fill="#1e1e1e" stroke="#1e1e1e" stroke-width="0.35" textLength="111.60" lengthAdjust="spacingAndGlyphs" transform="translate(168.16 529.50) rotate(-90)">Time to half max soluble protein</text>
<rect x="207.70" y="533.90" width="28.60" height="33.80" fill="#e0857a"/>
<line x1="222.00" y1="510.60" x2="222.00" y2="556.00" stroke="#c8102e" stroke-width="1.30"/>
<line x1="214.80" y1="510.60" x2="229.20" y2="510.60" stroke="#c8102e" stroke-width="1.40"/>
<line x1="214.80" y1="556.00" x2="229.20" y2="556.00" stroke="#c8102e" stroke-width="1.40"/>
<circle cx="222.50" cy="506.20" r="1.75" fill="#c8102e"/>
<circle cx="222.50" cy="512.10" r="1.75" fill="#c8102e"/>
<circle cx="222.50" cy="523.50" r="1.75" fill="#c8102e"/>
<circle cx="222.50" cy="539.90" r="1.75" fill="#c8102e"/>
<circle cx="222.50" cy="560.65" r="1.75" fill="#c8102e"/>
<rect x="253.20" y="557.50" width="28.00" height="10.20" fill="#8592b7"/>
<line x1="267.20" y1="544.60" x2="267.20" y2="567.00" stroke="#15528e" stroke-width="1.30"/>
<line x1="260.40" y1="544.60" x2="274.00" y2="544.60" stroke="#15528e" stroke-width="1.40"/>
<line x1="260.40" y1="567.00" x2="274.00" y2="567.00" stroke="#15528e" stroke-width="1.40"/>
<rect x="265.25" y="536.25" width="3.50" height="3.50" fill="#15528e"/>
<rect x="265.25" y="544.65" width="3.50" height="3.50" fill="#15528e"/>
<rect x="265.25" y="556.25" width="3.50" height="3.50" fill="#15528e"/>
<rect x="258.45" y="565.35" width="3.50" height="3.50" fill="#15528e"/>
<rect x="265.25" y="565.35" width="3.50" height="3.50" fill="#15528e"/>
<rect x="271.65" y="565.35" width="3.50" height="3.50" fill="#15528e"/>
<line x1="222.50" y1="567.70" x2="222.50" y2="570.70" stroke="#151515" stroke-width="1.00"/>
<line x1="267.00" y1="567.70" x2="267.00" y2="570.70" stroke="#151515" stroke-width="1.00"/>
<line x1="223.40" y1="498.90" x2="270.00" y2="498.90" stroke="#151515" stroke-width="1.20"/>
<line x1="223.40" y1="496.40" x2="223.40" y2="501.40" stroke="#151515" stroke-width="1.20"/>
<line x1="270.00" y1="496.40" x2="270.00" y2="501.40" stroke="#151515" stroke-width="1.20"/>
<text x="246.70" y="499.33" font-size="9.00" text-anchor="middle" fill="#1e1e1e" font-weight="normal" stroke="#1e1e1e" stroke-width="0.1">*</text>
<text x="222.60" y="582.10" font-size="9.80" text-anchor="middle" fill="#1e1e1e" font-weight="normal" textLength="21.00" lengthAdjust="spacingAndGlyphs" stroke="#1e1e1e" stroke-width="0.12">Adult</text>
<text x="267.00" y="582.10" font-size="9.80" text-anchor="middle" fill="#1e1e1e" font-weight="normal" textLength="34.00" lengthAdjust="spacingAndGlyphs" stroke="#1e1e1e" stroke-width="0.12">Neonate</text>
<text x="390.30" y="478.70" font-size="8.40" text-anchor="middle" fill="#1e1e1e" font-weight="normal" textLength="91.40" lengthAdjust="spacingAndGlyphs" stroke="#1e1e1e" stroke-width="0.1">Time to half degradation</text>
<line x1="338.60" y1="487.40" x2="338.60" y2="568.30" stroke="#151515" stroke-width="1.30"/>
<line x1="338.00" y1="567.70" x2="442.00" y2="567.70" stroke="#151515" stroke-width="1.30"/>
<line x1="334.60" y1="488.00" x2="338.60" y2="488.00" stroke="#151515" stroke-width="1.20"/>
<text x="331.70" y="491.42" font-size="9.50" text-anchor="end" fill="#1e1e1e" font-weight="normal" stroke="#1e1e1e" stroke-width="0.1">8</text>
<line x1="334.60" y1="508.00" x2="338.60" y2="508.00" stroke="#151515" stroke-width="1.20"/>
<text x="331.70" y="511.42" font-size="9.50" text-anchor="end" fill="#1e1e1e" font-weight="normal" stroke="#1e1e1e" stroke-width="0.1">6</text>
<line x1="334.60" y1="528.20" x2="338.60" y2="528.20" stroke="#151515" stroke-width="1.20"/>
<text x="331.70" y="531.62" font-size="9.50" text-anchor="end" fill="#1e1e1e" font-weight="normal" stroke="#1e1e1e" stroke-width="0.1">4</text>
<line x1="334.60" y1="547.70" x2="338.60" y2="547.70" stroke="#151515" stroke-width="1.20"/>
<text x="331.70" y="551.12" font-size="9.50" text-anchor="end" fill="#1e1e1e" font-weight="normal" stroke="#1e1e1e" stroke-width="0.1">2</text>
<line x1="334.60" y1="567.70" x2="338.60" y2="567.70" stroke="#151515" stroke-width="1.20"/>
<text x="331.70" y="571.12" font-size="9.50" text-anchor="end" fill="#1e1e1e" font-weight="normal" stroke="#1e1e1e" stroke-width="0.1">0</text>
<text x="0" y="0" font-size="11.00" text-anchor="middle" fill="#1e1e1e" stroke="#1e1e1e" stroke-width="0.35" textLength="111.60" lengthAdjust="spacingAndGlyphs" transform="translate(320.26 529.50) rotate(-90)">Time to half max soluble protein</text>
<rect x="353.70" y="553.40" width="29.10" height="14.30" fill="#e0857a"/>
<line x1="368.25" y1="531.30" x2="368.25" y2="567.70" stroke="#c8102e" stroke-width="1.30"/>
<line x1="361.05" y1="531.30" x2="375.45" y2="531.30" stroke="#c8102e" stroke-width="1.40"/>
<line x1="361.05" y1="567.70" x2="375.45" y2="567.70" stroke="#c8102e" stroke-width="1.40"/>
<circle cx="368.50" cy="516.00" r="1.75" fill="#c8102e"/>
<circle cx="368.50" cy="553.40" r="1.75" fill="#c8102e"/>
<circle cx="368.50" cy="559.90" r="1.75" fill="#c8102e"/>
<circle cx="365.40" cy="567.70" r="1.75" fill="#c8102e"/>
<circle cx="371.40" cy="567.70" r="1.75" fill="#c8102e"/>
<rect x="399.10" y="546.40" width="28.10" height="21.30" fill="#8592b7"/>
<line x1="413.15" y1="527.70" x2="413.15" y2="563.80" stroke="#15528e" stroke-width="1.30"/>
<line x1="405.95" y1="527.70" x2="420.35" y2="527.70" stroke="#15528e" stroke-width="1.40"/>
<line x1="405.95" y1="563.80" x2="420.35" y2="563.80" stroke="#15528e" stroke-width="1.40"/>
<rect x="411.15" y="516.85" width="3.50" height="3.50" fill="#15528e"/>
<rect x="411.15" y="536.35" width="3.50" height="3.50" fill="#15528e"/>
<rect x="411.15" y="548.55" width="3.50" height="3.50" fill="#15528e"/>
<rect x="411.15" y="555.55" width="3.50" height="3.50" fill="#15528e"/>
<rect x="411.15" y="562.75" width="3.50" height="3.50" fill="#15528e"/>
<line x1="368.50" y1="567.70" x2="368.50" y2="570.70" stroke="#151515" stroke-width="1.00"/>
<line x1="412.90" y1="567.70" x2="412.90" y2="570.70" stroke="#151515" stroke-width="1.00"/>
<line x1="369.30" y1="498.90" x2="416.00" y2="498.90" stroke="#151515" stroke-width="1.20"/>
<line x1="369.30" y1="496.40" x2="369.30" y2="501.40" stroke="#151515" stroke-width="1.20"/>
<line x1="416.00" y1="496.40" x2="416.00" y2="501.40" stroke="#151515" stroke-width="1.20"/>
<text x="392.70" y="499.33" font-size="9.00" text-anchor="middle" fill="#1e1e1e" font-weight="normal" stroke="#1e1e1e" stroke-width="0.1">*</text>
<text x="368.50" y="582.10" font-size="9.80" text-anchor="middle" fill="#1e1e1e" font-weight="normal" textLength="21.00" lengthAdjust="spacingAndGlyphs" stroke="#1e1e1e" stroke-width="0.12">Adult</text>
<text x="412.90" y="582.10" font-size="9.80" text-anchor="middle" fill="#1e1e1e" font-weight="normal" textLength="34.00" lengthAdjust="spacingAndGlyphs" stroke="#1e1e1e" stroke-width="0.12">Neonate</text>
<rect x="0.00" y="0.00" width="520.00" height="1.10" fill="#111"/>
<rect x="0.00" y="0.00" width="1.10" height="594.00" fill="#111"/>
<rect x="518.60" y="0.00" width="1.40" height="594.00" fill="#111"/>
<rect x="0.00" y="592.00" width="520.00" height="2.00" fill="#111"/>
</svg></body></html>
